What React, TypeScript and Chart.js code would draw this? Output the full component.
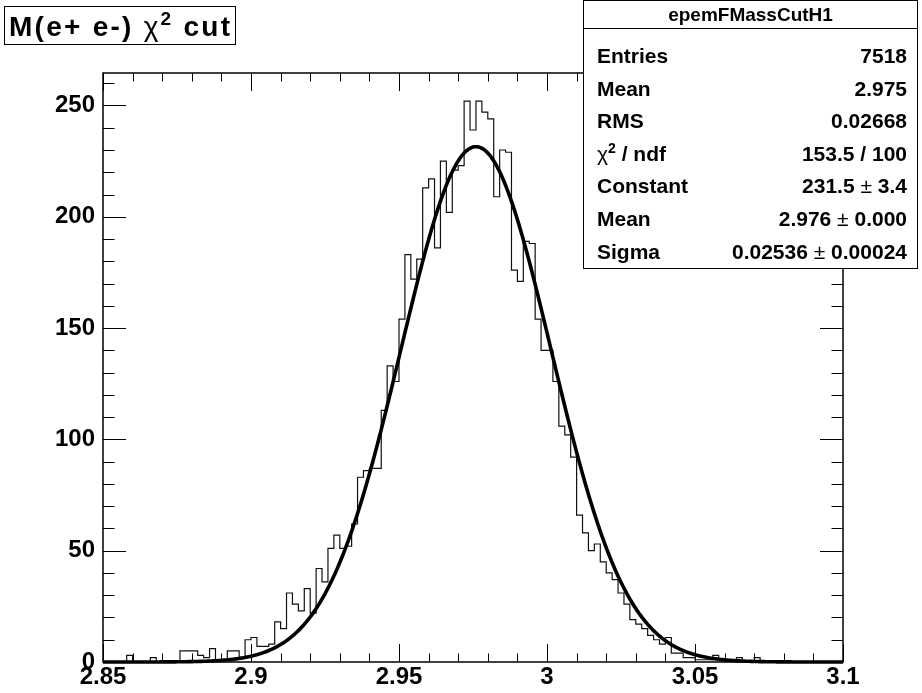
import React, { useEffect, useRef } from "react";
import { Chart, registerables } from "chart.js";

Chart.register(...registerables);

const X_MIN = 2.85;
const X_MAX = 3.1;
const BIN_WIDTH = 0.002;
const Y_MAX = 264.6;

// histogram bin contents (125 bins of 0.002 from 2.85 to 3.1)
const binCounts: number[] = [
  0, 0, 0, 0, 0, 3, 0, 0, 0, 2,
  0, 0, 0, 0, 5, 5, 5, 3, 2, 6,
  1, 1, 5, 5, 2, 10, 11, 7, 7, 8,
  18, 15, 31, 26, 23, 33, 22, 42, 36, 51,
  57, 51, 52, 62, 83, 86, 87, 87, 113, 133,
  126, 154, 183, 172, 181, 213, 217, 186, 225, 202,
  221, 223, 252, 239, 252, 247, 244, 209, 230, 229,
  176, 171, 189, 188, 154, 140, 140, 126, 106, 102,
  92, 66, 58, 50, 53, 45, 40, 37, 31, 26,
  19, 17, 15, 12, 10, 8, 11, 4, 4, 2,
  2, 1, 1, 1, 3, 1, 1, 0, 2, 0,
  0, 2, 0, 0, 0, 0, 0, 0, 0, 0,
  0, 0, 0, 0, 0,
];

// gaussian fit parameters (from the stats box)
const fitConstant = 231.5;
const fitMean = 2.976;
const fitSigma = 0.02536;

const xTickValues = [2.85, 2.9, 2.95, 3, 3.05, 3.1];
const yTickValues = [0, 50, 100, 150, 200, 250];

const plotTitle = "M(e+ e-) χ² cut";
const histName = "epemFMassCutH1";
const statsLabels = ["Entries", "Mean", "RMS", "χ² / ndf", "Constant", "Mean", "Sigma"];
const statsValues = ["7518", "2.975", "0.02668", "153.5 / 100", "231.5 ± 3.4", "2.976 ± 0.000", "0.02536 ± 0.00024"];

const FONT = "'Liberation Sans', Arial, sans-serif";

type Seg = { t: string; bold: boolean; sup: boolean };

function parseRich(s: string): Seg[] {
  const segs: Seg[] = [];
  let buf = "";
  const flush = () => {
    if (buf) segs.push({ t: buf, bold: true, sup: false });
    buf = "";
  };
  for (const ch of s) {
    if (ch === "²") {
      flush();
      segs.push({ t: "2", bold: true, sup: true });
    } else if (ch === "χ" || ch === "±") {
      flush();
      segs.push({ t: ch, bold: false, sup: false });
    } else buf += ch;
  }
  flush();
  return segs;
}

function segFont(seg: Seg, size: number) {
  const s = seg.sup ? Math.round(size * 0.68) : size;
  return `${seg.bold ? "bold " : ""}${s}px ${FONT}`;
}

// draws mixed text; optional targetWidth spreads extra spacing between characters
function drawRich(
  ctx: CanvasRenderingContext2D,
  text: string,
  x: number,
  y: number,
  align: "left" | "right" | "center",
  size: number,
  targetWidth?: number
) {
  const segs = parseRich(text);
  const chars: { c: string; font: string; w: number; sup: boolean }[] = [];
  segs.forEach((sg) => {
    const f = segFont(sg, size);
    ctx.font = f;
    for (const c of sg.t) chars.push({ c, font: f, w: ctx.measureText(c).width, sup: sg.sup });
  });
  let natural = 0;
  chars.forEach((c) => (natural += c.w));
  const extra = targetWidth && chars.length > 1 ? Math.max(0, (targetWidth - natural) / (chars.length - 1)) : 0;
  const total = natural + extra * (chars.length - 1);
  let cx = align === "left" ? x : align === "right" ? x - total : x - total / 2;
  ctx.textAlign = "left";
  ctx.textBaseline = "alphabetic";
  chars.forEach((c) => {
    ctx.font = c.font;
    ctx.fillText(c.c, cx, c.sup ? y - size * 0.38 : y);
    cx += c.w + extra;
  });
}

const framePlugin = {
  id: "rootFrame",
  beforeDatasetsDraw(chart: any) {
    const ctx: CanvasRenderingContext2D = chart.ctx;
    const { left, right, top, bottom } = chart.chartArea;
    const xs = chart.scales.x;
    const ys = chart.scales.y;
    ctx.save();
    ctx.strokeStyle = "#000";
    ctx.lineWidth = 1;
    ctx.beginPath();
    for (let i = 0; i <= 25; i++) {
      const v = X_MIN + i * 0.01;
      const px = Math.round(xs.getPixelForValue(v)) + 0.5;
      const len = i % 5 === 0 ? 18 : 8.5;
      ctx.moveTo(px, bottom);
      ctx.lineTo(px, bottom - len);
      ctx.moveTo(px, top);
      ctx.lineTo(px, top + len);
    }
    for (let v = 0; v < Y_MAX; v += 10) {
      const py = Math.round(ys.getPixelForValue(v)) + 0.5;
      const len = v % 50 === 0 ? 23 : 11.5;
      ctx.moveTo(left, py);
      ctx.lineTo(left + len, py);
      ctx.moveTo(right, py);
      ctx.lineTo(right - len, py);
    }
    ctx.stroke();
    ctx.lineWidth = 1.5;
    ctx.strokeRect(left, top, right - left, bottom - top);
    ctx.restore();
  },
  afterDraw(chart: any) {
    const ctx: CanvasRenderingContext2D = chart.ctx;
    ctx.save();
    ctx.fillStyle = "#fff";
    ctx.strokeStyle = "#000";
    ctx.lineWidth = 1;
    // title box
    ctx.fillRect(4.5, 6.5, 231, 38);
    ctx.strokeRect(4.5, 6.5, 231, 38);
    ctx.fillStyle = "#000";
    drawRich(ctx, plotTitle, 9, 36, "left", 28, 221);
    // stats box
    const bx0 = 583.5, by0 = 0.5, bx1 = 917.5, by1 = 268.5;
    ctx.fillStyle = "#fff";
    ctx.fillRect(bx0, by0, bx1 - bx0, by1 - by0);
    ctx.strokeRect(bx0, by0, bx1 - bx0, by1 - by0);
    ctx.beginPath();
    ctx.moveTo(bx0, 28.5);
    ctx.lineTo(bx1, 28.5);
    ctx.stroke();
    ctx.fillStyle = "#000";
    drawRich(ctx, histName, (bx0 + bx1) / 2, 21, "center", 19);
    statsLabels.forEach((lab, i) => {
      const y = 63 + i * 32.6;
      drawRich(ctx, lab, 597, y, "left", 21);
      drawRich(ctx, statsValues[i], 907, y, "right", 21);
    });
    ctx.restore();
  },
};

export default function App() {
  const ref = useRef<HTMLCanvasElement>(null);
  useEffect(() => {
    const canvas = ref.current;
    if (!canvas) return;
    const histPoints = binCounts.map((c, k) => ({ x: X_MIN + k * BIN_WIDTH, y: c }));
    histPoints.push({ x: X_MAX, y: binCounts[binCounts.length - 1] });
    const fitPoints: { x: number; y: number }[] = [];
    const N = 600;
    for (let i = 0; i <= N; i++) {
      const x = X_MIN + ((X_MAX - X_MIN) * i) / N;
      const z = (x - fitMean) / fitSigma;
      fitPoints.push({ x, y: fitConstant * Math.exp(-0.5 * z * z) });
    }
    const tickFont = { family: FONT, size: 24, weight: "bold" as const, lineHeight: 1 };
    const chart = new Chart(canvas, {
      type: "line",
      data: {
        datasets: [
          {
            data: fitPoints,
            borderColor: "#000",
            borderWidth: 3.6,
            pointRadius: 0,
            tension: 0,
            fill: false,
            clip: 6,
            order: 0,
          } as any,
          {
            data: histPoints,
            borderColor: "#111",
            borderWidth: 1.2,
            pointRadius: 0,
            stepped: "after",
            fill: false,
            order: 1,
          } as any,
        ],
      },
      options: {
        animation: false,
        responsive: false,
        events: [],
        layout: { padding: { left: 0, top: 73, right: 79, bottom: 0 } },
        plugins: {
          legend: { display: false },
          tooltip: { enabled: false },
          title: { display: false },
        },
        scales: {
          x: {
            type: "linear",
            min: X_MIN,
            max: X_MAX,
            grid: { display: false, drawTicks: false },
            border: { display: false },
            afterBuildTicks: (s: any) => {
              s.ticks = xTickValues.map((v) => ({ value: v }));
            },
            afterFit: (s: any) => {
              s.height = 31;
            },
            ticks: {
              autoSkip: false,
              maxRotation: 0,
              padding: 3,
              color: "#000",
              font: tickFont,
              callback: (v: any) => String(v),
            },
          },
          y: {
            type: "linear",
            min: 0,
            max: Y_MAX,
            grid: { display: false, drawTicks: false },
            border: { display: false },
            afterBuildTicks: (s: any) => {
              s.ticks = yTickValues.map((v) => ({ value: v }));
            },
            afterFit: (s: any) => {
              s.width = 103;
            },
            ticks: {
              padding: 8,
              color: "#000",
              font: tickFont,
              callback: (v: any) => String(v),
            },
          },
        },
      },
      plugins: [framePlugin],
    });
    return () => chart.destroy();
  }, []);
  return (
    <div style={{ position: "absolute", left: 0, top: 0, width: 922, height: 693, background: "#fff" }}>
      <canvas ref={ref} width={922} height={693} style={{ display: "block" }} />
    </div>
  );
}
